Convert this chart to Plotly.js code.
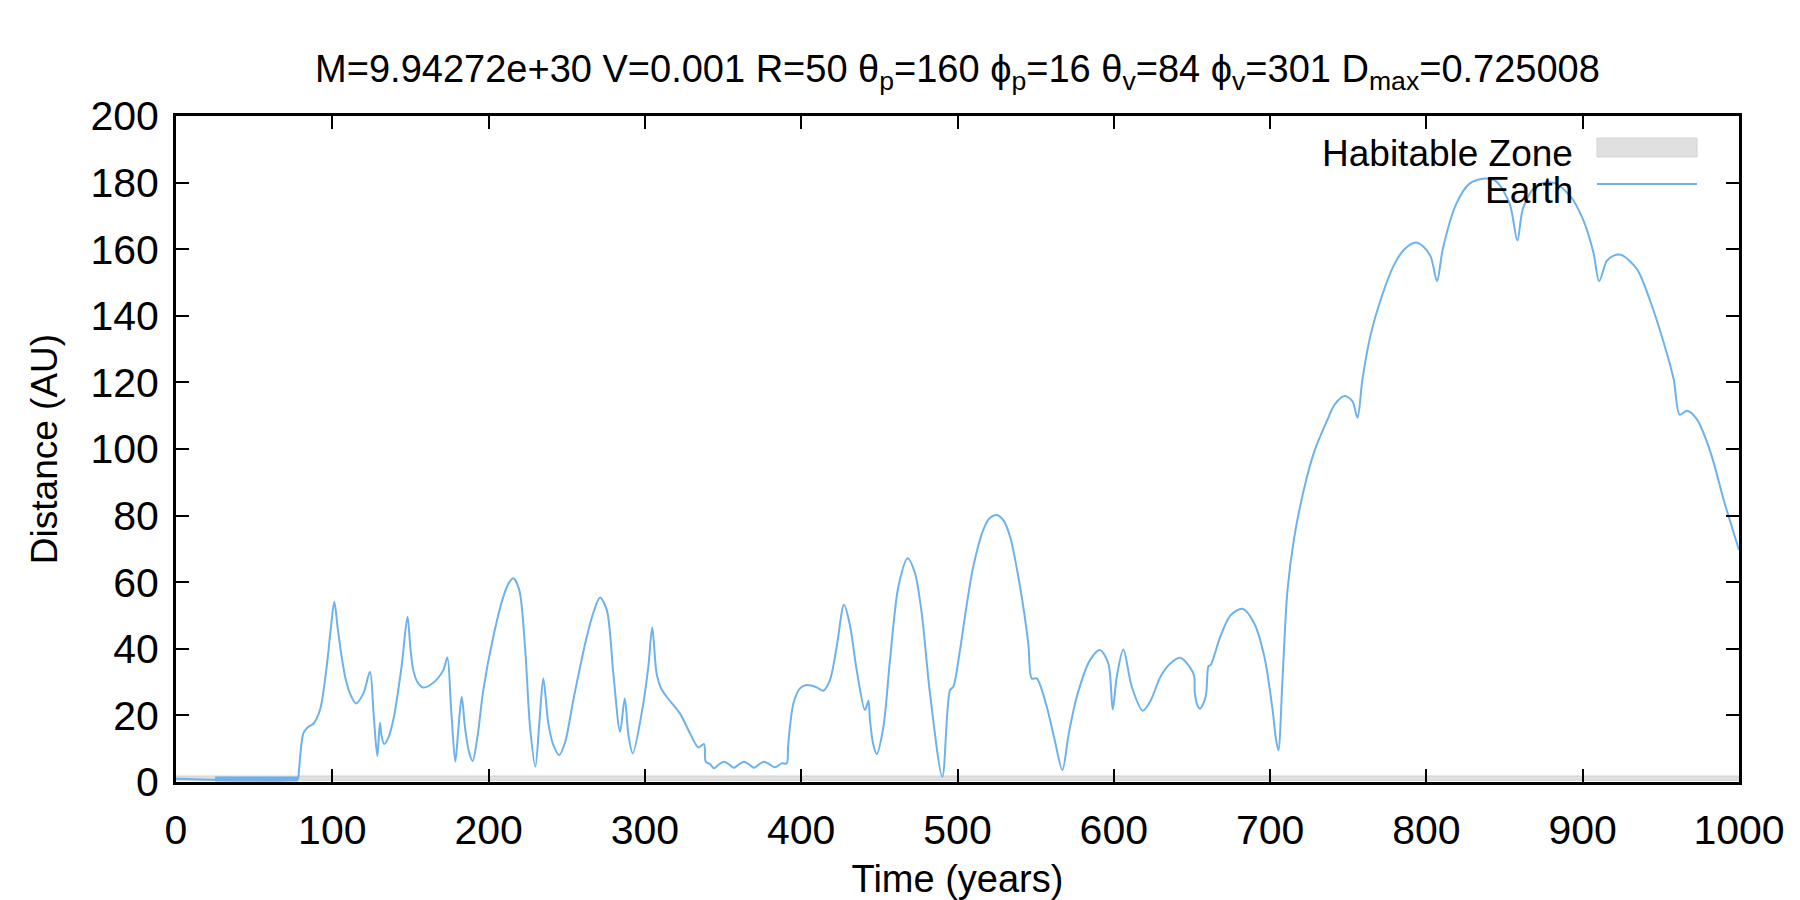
<!DOCTYPE html>
<html>
<head>
<meta charset="utf-8">
<script src="https://cdn.plot.ly/plotly-3.0.1.min.js"></script>
<style>html,body{margin:0;padding:0;background:#fff;}#chart{width:1800px;height:900px;}</style>
</head>
<body>
<div id="chart"></div>
<script>
// ---- Data ----
const earthT = [0, 78, 78.3, 79.5, 81.5, 84.5, 87.9, 92.1, 96.4, 99, 101.3, 103.5, 106, 108.5, 111.3, 115.2, 119.9, 124.1, 126.5, 128.8, 130.5, 131.5, 133.1, 136, 139, 144.3, 148.1, 150, 151.8, 154.5, 158.1, 164.6, 171, 173.6, 176, 178.7, 180.5, 182.8, 185, 187.5, 189.8, 193, 196.6, 203, 209.4, 213, 215.8, 219.6, 223.3, 226.5, 229.9, 232.5, 235, 238.2, 241.5, 245.2, 249, 254.2, 262.8, 267.5, 271.3, 275.6, 279.8, 284.1, 287.1, 289.5, 292.2, 297.9, 302.2, 304.7, 307.5, 310.5, 313.9, 322.4, 328.9, 334.2, 337.8, 338.9, 341.6, 344.2, 347.4, 350.6, 353.8, 357, 360.2, 363.4, 366.6, 369.8, 373, 376.2, 379.7, 383.2, 387.5, 390.7, 391.6, 392.8, 395, 399.2, 403.5, 409.9, 414.1, 418.4, 422.7, 427.4, 431.2, 435.5, 440.8, 443, 444, 446, 448.3, 452.6, 456.8, 462.2, 468.1, 472.8, 477.1, 482.4, 490.3, 495.2, 497.3, 501.6, 505.5, 510.1, 516.5, 520.5, 525.1, 529.5, 533.6, 540, 545.3, 547.5, 550.7, 557.1, 562, 567.1, 571, 576.3, 584.8, 591.2, 596.5, 599.3, 601.9, 606.1, 611.5, 618.5, 623.2, 630.1, 636, 642.4, 648.2, 651.4, 651.8, 653.5, 655.2, 658.8, 660.6, 662, 668.4, 674.8, 682.3, 689.8, 696.2, 701.5, 703.6, 705.3, 707.9, 711.1, 715.4, 721.7, 728.1, 736.7, 741.5, 747.8, 752.7, 755.9, 759.1, 764.4, 770.8, 779.3, 786, 793.2, 798, 802.8, 806.8, 810.5, 819.1, 827.6, 837.3, 844.8, 853.3, 858.2, 861.9, 870.4, 881.2, 891.9, 900.4, 906.9, 910.5, 915.4, 919.5, 924.6, 934.7, 943.3, 951.8, 958.2, 962.1, 966.8, 973.2, 981.8, 990.4, 1000];
const earthD = [1, 1, 1.5, 8, 14.6, 16.5, 17.5, 21.6, 34.6, 46, 54.1, 46, 37.6, 31, 26.6, 23.6, 26.6, 33.1, 20, 7.8, 17.8, 14, 11.4, 13.5, 18.6, 34.6, 49.6, 40, 33.6, 30, 28.4, 29.8, 33.6, 37.4, 22, 6.1, 15, 25.6, 16, 9, 6.3, 14, 27.6, 43.6, 55.6, 59.8, 61.2, 57.7, 40.6, 16.6, 4.6, 18, 31.1, 17.6, 11, 8.1, 12, 24.6, 43.6, 51.5, 55.4, 51.7, 32.6, 15.1, 25.1, 14, 8.6, 20.6, 34.6, 46.4, 32.6, 28, 25.6, 20.6, 14.6, 10.4, 11.4, 6.1, 5.4, 4.1, 5.3, 6.1, 5.3, 4.3, 5.3, 6.1, 5.3, 4.3, 5.3, 6.1, 5.3, 4.4, 5.6, 5.6, 10.6, 16.6, 23.6, 28.1, 29.1, 28.4, 27.4, 30.6, 40.6, 53.2, 47, 33.6, 21.6, 24.4, 18.6, 11.5, 8.4, 16.6, 36.6, 58.7, 67.2, 62.7, 50.7, 26.6, 1.6, 27.6, 28.6, 39.6, 52, 64.7, 75.7, 79.2, 80.2, 78.5, 73.7, 58.7, 41.6, 31.1, 31.1, 22.6, 13, 3.6, 14, 25.6, 36.6, 39.6, 35.6, 21.8, 31.6, 39.8, 28.6, 21.4, 24.1, 31.8, 35.5, 37.3, 34.8, 31.8, 26.9, 23, 22, 25.7, 34.8, 35.2, 44.0, 50.1, 52, 47.7, 37.9, 22, 13.4, 9.5, 30.6, 57.5, 73.3, 88, 99, 108.8, 113.5, 115.9, 114.3, 109.4, 121, 134.5, 144.9, 155.3, 160, 162, 160.8, 157.7, 150.4, 160.1, 173.6, 179.7, 181.2, 180.3, 173.6, 162.6, 172.4, 179.1, 180, 176, 168.7, 158.9, 150.4, 156.5, 158, 158.3, 154, 144.3, 132, 121, 110.3, 111.5, 108.8, 99, 84.4, 69.7];

// rapid-oscillation stretch near 1 AU (appears as a thick band)
const oscT = [25, 78];
const oscD = [0.9, 0.9];

// habitable zone (AU)
const hzT = [0, 1000];
const hzInner = [0.5, 0.5];
const hzOuter = [1.8, 1.8];

const xTicks = [0, 100, 200, 300, 400, 500, 600, 700, 800, 900, 1000];
const yTicks = [0, 20, 40, 60, 80, 100, 120, 140, 160, 180, 200];

const seriesNames = ["Habitable Zone", "Earth"];
const titleText = "M=9.94272e+30 V=0.001 R=50 θ<sub>p</sub>=160 ϕ<sub>p</sub>=16 θ<sub>v</sub>=84 ϕ<sub>v</sub>=301 D<sub>max</sub>=0.725008";

// ---- Styles ----
const FONT = "Liberation Sans, Arial, Helvetica, sans-serif";
const EARTH_COLOR = "#6db2ea";
const HZ_FILL = "#e0e0e0";
const HZ_LINE = "#d2d2d2";

const traces = [
  {
    x: hzT.concat(hzT.slice().reverse()),
    y: hzInner.concat(hzOuter.slice().reverse()),
    type: "scatter", mode: "lines", fill: "toself",
    fillcolor: HZ_FILL, line: {color: HZ_LINE, width: 1},
    name: seriesNames[0], showlegend: false, hoverinfo: "skip"
  },
  {
    x: oscT, y: oscD, type: "scatter", mode: "lines",
    line: {color: EARTH_COLOR, width: 5},
    name: seriesNames[1], showlegend: false
  },
  {
    x: earthT, y: earthD, type: "scatter", mode: "lines",
    line: {color: EARTH_COLOR, width: 2, shape: "spline", smoothing: 0.85},
    name: seriesNames[1], showlegend: false
  }
];

// plot-area geometry for legend placement (paper coords)
const L = 176, R = 61, T = 116, B = 118, W = 1800, H = 900;
const pw = W - L - R, ph = H - T - B;
const px = v => (v - L) / pw;
const py = v => (H - B - v) / ph;

const axisCommon = {
  showgrid: false, zeroline: false, showline: true, linecolor: "#000", linewidth: 3,
  mirror: "allticks", ticks: "inside", ticklen: 13, tickwidth: 2, tickcolor: "#000",
  tickfont: {family: FONT, size: 41, color: "#000"}
};

const layout = {
  width: W, height: H,
  margin: {l: L, r: R, t: T, b: B},
  paper_bgcolor: "#fff", plot_bgcolor: "#fff",
  showlegend: false,
  title: {
    text: titleText, font: {family: FONT, size: 38, color: "#000"},
    x: 0.5, xanchor: "center", xref: "paper", y: 1 - 69 / H, yanchor: "middle", yref: "container"
  },
  xaxis: Object.assign({}, axisCommon, {
    range: [0, 1000], tickvals: xTicks, ticktext: xTicks.map(String),
    ticklabelstandoff: 10,
    title: {text: "Time (years)", font: {family: FONT, size: 38, color: "#000"}, standoff: 16}
  }),
  yaxis: Object.assign({}, axisCommon, {
    range: [0, 200], tickvals: yTicks, ticktext: yTicks.map(String),
    ticklabelstandoff: 6,
    title: {text: "Distance (AU)", font: {family: FONT, size: 37, color: "#000"}, standoff: 22}
  }),
  annotations: [
    {text: seriesNames[0], xref: "paper", yref: "paper", x: px(1575), y: py(153),
     xanchor: "right", yanchor: "middle", showarrow: false,
     font: {family: FONT, size: 37, color: "#000"}},
    {text: seriesNames[1], xref: "paper", yref: "paper", x: px(1575), y: py(190),
     xanchor: "right", yanchor: "middle", showarrow: false,
     font: {family: FONT, size: 37, color: "#000"}}
  ],
  shapes: [
    {type: "rect", xref: "paper", yref: "paper", x0: px(1597), x1: px(1697), y0: py(157), y1: py(138),
     fillcolor: HZ_FILL, line: {color: HZ_LINE, width: 1}},
    {type: "line", xref: "paper", yref: "paper", x0: px(1597), x1: px(1697), y0: py(184), y1: py(184),
     line: {color: EARTH_COLOR, width: 2}}
  ]
};

Plotly.newPlot("chart", traces, layout, {displayModeBar: false, staticPlot: true});
</script>
</body>
</html>
